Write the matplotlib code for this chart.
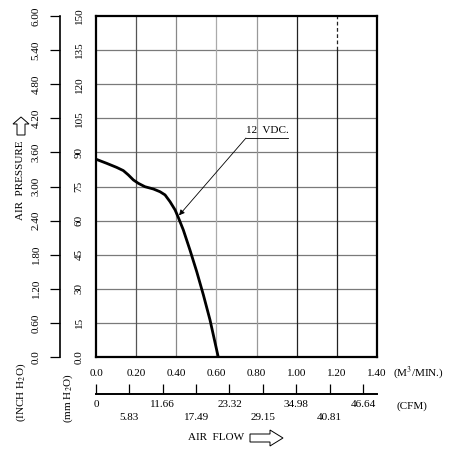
import numpy as np
import matplotlib
matplotlib.use("Agg")
import matplotlib.pyplot as plt
from matplotlib.patches import Polygon

plt.rcParams['font.family'] = ['Liberation Serif', 'DejaVu Serif']
plt.rcParams['mathtext.fontset'] = 'stix'

# curve (M3/MIN, mm H2O)
flow = [0.0, 0.053, 0.103, 0.136, 0.161, 0.186, 0.211, 0.244, 0.286, 0.319,
        0.344, 0.369, 0.394, 0.410, 0.435, 0.468, 0.502, 0.535, 0.568, 0.609]
pressure = [87.0, 85.2, 83.4, 82.0, 80.1, 77.9, 76.4, 74.9, 73.9, 72.7,
            71.3, 68.3, 64.7, 61.4, 55.9, 47.1, 37.5, 27.3, 16.3, 0.0]

m3_ticks = [0.0, 0.2, 0.4, 0.6, 0.8, 1.0, 1.2, 1.4]
m3_labels = ["0.0", "0.20", "0.40", "0.60", "0.80", "1.00", "1.20", "1.40"]
mm_ticks = [0, 15, 30, 45, 60, 75, 90, 105, 120, 135, 150]
mm_labels = ["0.0", "15", "30", "45", "60", "75", "90", "105", "120", "135", "150"]
inch_ticks = [0.0, 0.6, 1.2, 1.8, 2.4, 3.0, 3.6, 4.2, 4.8, 5.4, 6.0]
inch_labels = ["0.0", "0.60", "1.20", "1.80", "2.40", "3.00", "3.60", "4.20", "4.80", "5.40", "6.00"]
cfm_major = [0, 11.66, 23.32, 34.98, 46.64]
cfm_major_labels = ["0", "11.66", "23.32", "34.98", "46.64"]
cfm_minor = [5.83, 17.49, 29.15, 40.81]
cfm_minor_labels = ["5.83", "17.49", "29.15", "40.81"]

W, H = 451, 450
fig = plt.figure(figsize=(W / 100, H / 100), dpi=100)

L, R, T, B = 96, 377, 16, 357
ax = fig.add_axes([L / W, (H - B) / H, (R - L) / W, (B - T) / H])
ax.set_xlim(0, 1.4)
ax.set_ylim(0, 150)

# grid
for y in mm_ticks[1:-1]:
    ax.axhline(y, color='#7a7a7a', lw=0.9, zorder=1)
vcols = ['#555555', '#888888', '#aaaaaa', '#999999', '#222222']
for x, c in zip(m3_ticks[1:6], vcols):
    ax.axvline(x, color=c, lw=0.9, zorder=1)
ax.plot([1.2, 1.2], [0, 135], color='#222222', lw=0.9, zorder=1)
ax.plot([1.2, 1.2], [135, 150], color='#222222', lw=0.9, ls=(0, (3, 2)), zorder=1)

ax.plot(flow, pressure, color='black', lw=2.0, zorder=3,
        solid_capstyle='butt', solid_joinstyle='round')

ax.annotate("", xy=(0.4135, 62.3), xytext=(0.747, 96.3),
            arrowprops=dict(arrowstyle='-|>', color='black', lw=0.6,
                            mutation_scale=8, shrinkA=0, shrinkB=0))
ax.plot([0.747, 0.955], [96.3, 96.3], color='black', lw=0.6)
ax.text(0.855, 97.5, "12  VDC.", fontsize=8, ha='center', va='bottom')

for s in ax.spines.values():
    s.set_linewidth(1.6)
ax.set_xticks(m3_ticks)
ax.set_xticklabels(m3_labels, fontsize=8)
ax.set_yticks(mm_ticks)
ax.set_yticklabels(mm_labels, fontsize=8, rotation=90, va='center')
ax.tick_params(axis='both', length=0)
ax.tick_params(axis='x', pad=9)
ax.tick_params(axis='y', pad=9)
fig.text(393 / W, 1 - 373 / H, "(M$^3$/MIN.)", fontsize=8, ha='left', va='center')

# inch axis
axi = fig.add_axes([60 / W, (H - B) / H, 0.001, (B - T) / H])
axi.set_ylim(0, 6.0)
for k in ['top', 'right', 'bottom']:
    axi.spines[k].set_visible(False)
axi.spines['left'].set_linewidth(1.2)
axi.set_xticks([])
axi.set_yticks(inch_ticks)
axi.set_yticklabels(inch_labels, fontsize=8, rotation=90, va='center')
axi.tick_params(axis='y', direction='out', length=7, width=0.9, pad=7)

# cfm axis
cy = 394
axc = fig.add_axes([L / W, (H - cy) / H, (R - L) / W, 0.001])
axc.set_xlim(0, 49.1)
for k in ['top', 'right', 'left']:
    axc.spines[k].set_visible(False)
axc.spines['bottom'].set_linewidth(1.4)
axc.set_yticks([])
axc.set_xticks(cfm_major)
axc.set_xticklabels(cfm_major_labels, fontsize=8)
axc.set_xticks(cfm_minor, minor=True)
axc.set_xticklabels(cfm_minor_labels, minor=True, fontsize=8)
axc.tick_params(axis='x', which='major', direction='in', length=7, width=0.9, pad=4)
axc.tick_params(axis='x', which='minor', direction='in', length=7, width=0.9, pad=14)

fig.text(412 / W, 1 - 406 / H, "(CFM)", fontsize=8, ha='center', va='center')
fig.text(216 / W, 1 - 438 / H, "AIR  FLOW", fontsize=8, ha='center', va='center')
fig.text(21 / W, 1 - 180 / H, "AIR  PRESSURE", fontsize=8, ha='center', va='center', rotation=90)
fig.text(21 / W, 1 - 392 / H, "(INCH H$_2$O)", fontsize=8, ha='center', va='center', rotation=90)
fig.text(68 / W, 1 - 398 / H, "(mm H$_2$O)", fontsize=8, ha='center', va='center', rotation=90)


def px(pts):
    return [(x / W, 1 - y / H) for x, y in pts]


# hollow arrows
right_arrow = [(250, 434), (270, 434), (270, 430), (283, 438), (270, 446), (270, 442), (250, 442)]
up_arrow = [(17, 135), (17, 124), (13, 124), (21, 117), (29, 124), (25, 124), (25, 135)]
for pts in (right_arrow, up_arrow):
    fig.patches.append(Polygon(px(pts), closed=True, fill=False, lw=0.7,
                               edgecolor='black', transform=fig.transFigure))

fig.savefig("out.png", dpi=100)
